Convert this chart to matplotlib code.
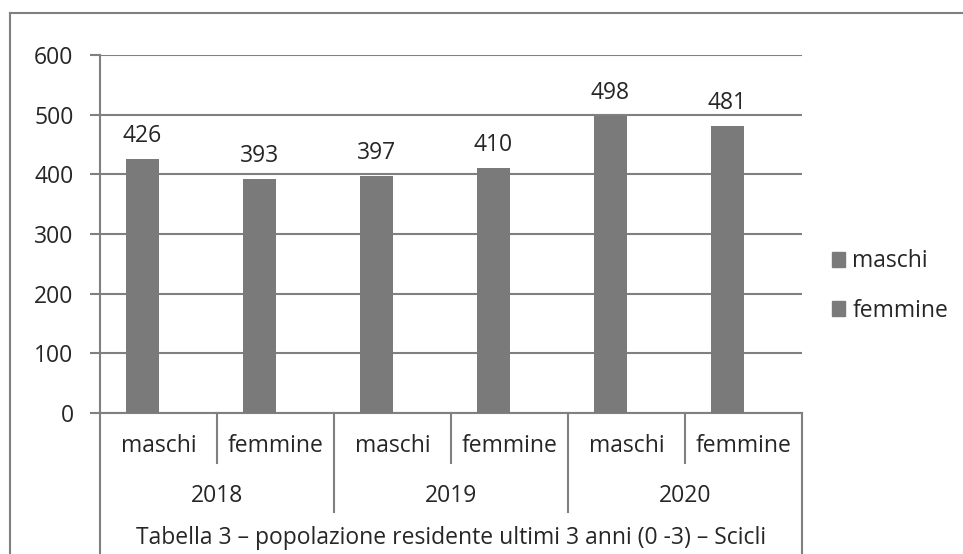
import numpy as np
import matplotlib
matplotlib.use("Agg")
import matplotlib.pyplot as plt
from matplotlib.patches import Patch
from matplotlib.lines import Line2D
import matplotlib.transforms as mtransforms

plt.rcParams.update({"font.family": "Open Sans", "font.size": 16.5})

years = ["2018", "2019", "2020"]
sexes = ["maschi", "femmine"]
values = [426, 393, 397, 410, 498, 481]
sub_labels = sexes * len(years)
title = "Tabella 3 \u2013 popolazione residente ultimi 3 anni (0 -3) \u2013 Scicli"

BAR = "#7a7a7a"
LINE = "#808080"
TXT = "#262626"

fig = plt.figure(figsize=(9.63, 5.54), dpi=100)
ax = fig.add_axes([100 / 963, 141 / 554, 702 / 963, 358 / 554])

x = np.arange(len(values))
ax.bar(x - 0.14, values, 0.28, color=BAR, zorder=3)
for xi, v in zip(x, values):
    ax.annotate(str(v), (xi - 0.14, v), xytext=(0, 16.5), textcoords="offset points",
                ha="center", va="center", color=TXT)

ax.set_xlim(-0.5, len(values) - 0.5)
ax.set_ylim(0, 600)
ax.set_yticks(range(0, 601, 100))
ax.yaxis.grid(True, color=LINE, lw=1.5, zorder=0)
ax.tick_params(axis="y", length=7, width=1.5, color=LINE, labelcolor=TXT, pad=12)
ax.set_xticks([])
for s in ["top", "right", "bottom"]:
    ax.spines[s].set_visible(False)
ax.spines["left"].set_color(LINE)
ax.spines["left"].set_linewidth(1.5)

# multi-level category axis below the plot
tr = mtransforms.blended_transform_factory(ax.transData, fig.transFigure)
y0 = 141 / 554
y_sub = (554 - 463) / 554
y_year = (554 - 512) / 554
ax.plot([-0.5, 5.5], [y0, y0], transform=tr, color=LINE, lw=1.5, clip_on=False)
for xs in [-0.5, 5.5]:
    ax.plot([xs, xs], [0, y0], transform=tr, color=LINE, lw=1.5, clip_on=False)
for xs in [0.5, 2.5, 4.5]:
    ax.plot([xs, xs], [y_sub, y0], transform=tr, color=LINE, lw=1.5, clip_on=False)
for xs in [1.5, 3.5]:
    ax.plot([xs, xs], [y_year, y0], transform=tr, color=LINE, lw=1.5, clip_on=False)
for xi, lab in zip(x, sub_labels):
    ax.text(xi, (554 - 446) / 554, lab, transform=tr, ha="center", va="center", color=TXT)
for i, yr in enumerate(years):
    ax.text(2 * i + 0.5, (554 - 496) / 554, yr, transform=tr, ha="center", va="center", color=TXT)
ax.text(2.5, (554 - 538) / 554, title, transform=tr, ha="center", va="center", color=TXT)

# legend
handles = [Patch(color=BAR, label=s) for s in sexes]
fig.legend(handles=handles, loc="center left", bbox_to_anchor=(811 / 963, (554 - 286) / 554),
           frameon=False, handlelength=0.6, handleheight=0.6, handletextpad=0.3,
           labelspacing=1.1, labelcolor=TXT)

# outer chart border
fig.add_artist(Line2D([10 / 963, 10 / 963], [0, 1 - 13 / 554], color=LINE, lw=1.5))
fig.add_artist(Line2D([10 / 963, 1], [1 - 13 / 554, 1 - 13 / 554], color=LINE, lw=1.5))

fig.savefig("out.png", dpi=100)
